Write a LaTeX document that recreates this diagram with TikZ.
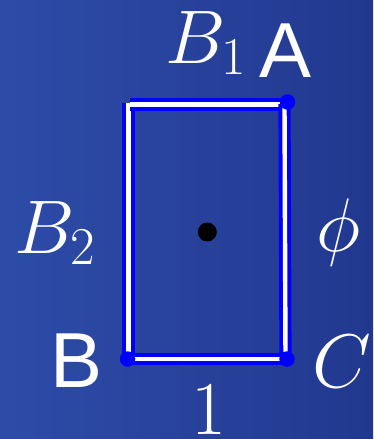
\RequirePackage{fix-cm}
\documentclass[tikz,border=0pt]{standalone}
\usepackage{fontspec}
\newfontfamily\labsans{Liberation Sans}
\definecolor{bgl}{RGB}{45,76,168}
\definecolor{bgr}{RGB}{34,56,143}
\definecolor{edgeblue}{RGB}{0,0,255}
\begin{document}
\begin{tikzpicture}[x=1pt,y=-1pt,
  edgeline/.style={draw=edgeblue,double=white,double distance=4.4pt,line width=3.9pt,line cap=butt},
  cornerdot/.style={circle,fill=edgeblue,inner sep=0pt,minimum size=15.5pt},
  lab/.style={text=white,inner sep=0pt,font=\fontsize{76}{90}\selectfont},
  sanslab/.style={text=white,inner sep=0pt,font=\labsans\fontsize{78}{90}\selectfont}]
\shade[left color=bgl,right color=bgr] (0,0) rectangle (373,439);
\useasboundingbox (0,0) rectangle (373,439);
% corners
\coordinate (tl) at (128.5,103);
\coordinate (tlh) at (130,104.5);
\coordinate (tr) at (287,104.5);
\coordinate (trv) at (284.5,104);
\coordinate (br) at (285.5,359);
\coordinate (bl) at (128.5,359);
% edges
\draw[edgeline] (tl) -- (bl);
\draw[edgeline] (tlh) -- (tr);
\draw[edgeline] (trv) -- (br);
\draw[edgeline] (bl) -- (br);
% corner dots
\node[cornerdot] (dA) at (287.5,102) {};
\node[cornerdot] (dB) at (127.5,359) {};
\node[cornerdot] (dC) at (287,359) {};
% centre dot
\node[circle,fill=black,inner sep=0pt,minimum size=19pt] (ctr) at (207.3,232) {};
% labels
\node[lab,anchor=base west] (lB1) at (165,63) {$B_1$};
\node[sanslab,anchor=base west] (lA) at (259,77) {A};
\node[lab,anchor=base west] (lB2) at (14,253) {$B_2$};
\node[lab,anchor=base] (lphi) at (339,251) {$\phi$};
\node[sanslab,anchor=base west] (lBs) at (50,387) {B};
\node[lab,anchor=base west] (lC) at (312,387) {$C$};
\node[lab,anchor=base] (l1) at (208.5,434) {$1$};
\end{tikzpicture}
\end{document}
